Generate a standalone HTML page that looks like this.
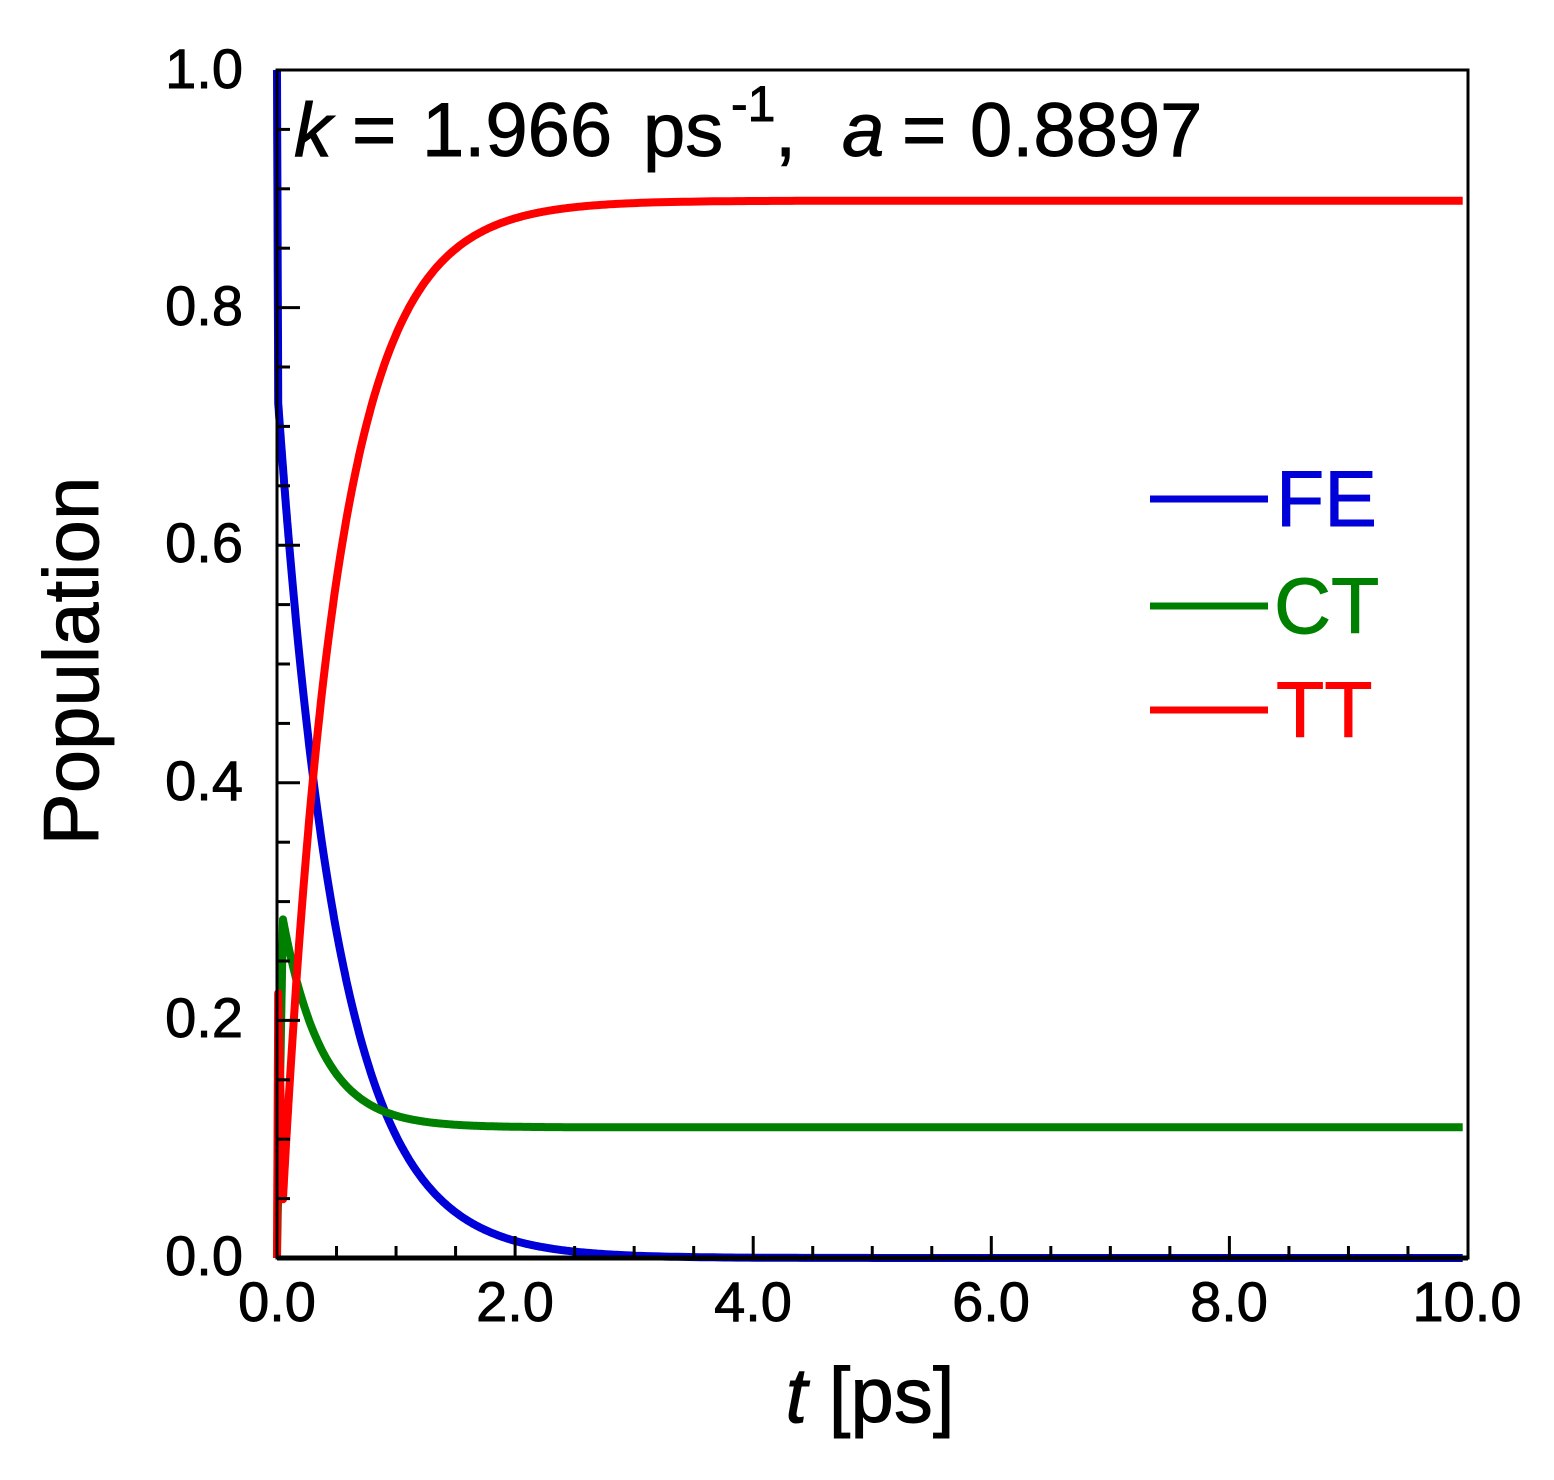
<!DOCTYPE html>
<html><head><meta charset="utf-8"><style>
html,body{margin:0;padding:0;background:#fff}
svg text{font-family:"Liberation Sans",Arial,sans-serif;fill:#000;stroke:#000;stroke-width:0.9}
</style></head><body>
<svg id="s" width="1554" height="1475" viewBox="0 0 1554 1475" xmlns="http://www.w3.org/2000/svg">
<rect width="1554" height="1475" fill="#fff"/>
<g id="curves" fill="none" stroke-width="8" stroke-linejoin="round"></g>
<rect x="277" y="70" width="1191" height="1188" fill="none" stroke="#000" stroke-width="3"/>
<line x1="277" y1="1258" x2="1468" y2="1258" stroke="#000" stroke-width="5"/>
<g id="ticks" stroke="#000" stroke-width="3"></g>
<g font-size="56">
<text x="243" y="1275" text-anchor="end">0.0</text>
<text x="243" y="1037" text-anchor="end">0.2</text>
<text x="243" y="800" text-anchor="end">0.4</text>
<text x="243" y="562" text-anchor="end">0.6</text>
<text x="243" y="325" text-anchor="end">0.8</text>
<text x="243" y="88" text-anchor="end">1.0</text>
<text x="277" y="1321" text-anchor="middle">0.0</text>
<text x="515" y="1321" text-anchor="middle">2.0</text>
<text x="753" y="1321" text-anchor="middle">4.0</text>
<text x="991" y="1321" text-anchor="middle">6.0</text>
<text x="1229" y="1321" text-anchor="middle">8.0</text>
<text x="1467" y="1321" text-anchor="middle">10.0</text>
</g>
<text x="98" y="661" font-size="78" text-anchor="middle" transform="rotate(-90 98 661)">Population</text>
<text x="870" y="1422" font-size="78" text-anchor="middle"><tspan font-style="italic">t</tspan> [ps]</text>
<g font-size="76">
<text x="294" y="156" font-style="italic">k</text>
<text x="352" y="156">=</text>
<text x="422" y="156">1.966</text>
<text x="643" y="156">ps</text>
<text x="731" y="121" font-size="50">-1</text>
<text x="775" y="156">,</text>
<text x="842" y="156" font-style="italic">a</text>
<text x="902" y="156">=</text>
<text x="970" y="156">0.8897</text>
</g>
<line x1="1150" y1="499" x2="1268" y2="499" stroke="#0000d8" stroke-width="7"/>
<line x1="1150" y1="606" x2="1268" y2="606" stroke="#008000" stroke-width="7"/>
<line x1="1150" y1="710" x2="1268" y2="710" stroke="#ff0000" stroke-width="7"/>
<g font-size="79">
<text x="1276" y="526" style="fill:#0000d8;stroke:#0000d8">FE</text>
<text x="1274" y="633" style="fill:#008000;stroke:#008000">CT</text>
<text x="1276" y="737" style="fill:#ff0000;stroke:#ff0000">TT</text>
</g>
</svg>
<script>
(function(){
var X=function(t){return 277+119.05*t},Y=function(p){return 1258-1188*p};
function fe(t){if(t<0.01)return 1-28*t;return 0.72*Math.exp(-1.966*(t-0.01));}
function ct(t){if(t<0.05)return 0.285*t/0.05;return 0.11+0.175*Math.exp(-(t-0.05)/0.33);}
function tt(t){var v=1-fe(t)-ct(t);return v<0?0:v;}
var fns=[[fe,'#0000d8'],[ct,'#008000'],[tt,'#ff0000']];
var g=document.getElementById('curves');
fns.forEach(function(f){
var d='',n=0;
for(var t=0;t<=10.0001;){
 d+=(n?'L':'M')+X(t).toFixed(1)+' '+Y(f[0](t)).toFixed(1);
 n++; t+= t<0.1?0.002:(t<3?0.01:0.05);
}
var p=document.createElementNS('http://www.w3.org/2000/svg','path');
p.setAttribute('d',d);p.setAttribute('stroke',f[1]);g.appendChild(p);
});
var tk=document.getElementById('ticks'),h='';
for(var i=1;i<20;i++){var y=Y(i*0.05),L=(i%4==0)?23:13;
 h+='<line x1="277" y1="'+y+'" x2="'+(277+L)+'" y2="'+y+'"/>';}
for(var j=1;j<20;j++){var x=X(j*0.5),L2=(j%4==0)?22:12;
 h+='<line x1="'+x+'" y1="1258" x2="'+x+'" y2="'+(1258-L2)+'"/>';}
tk.innerHTML=h;
})();
</script>
</body></html>
